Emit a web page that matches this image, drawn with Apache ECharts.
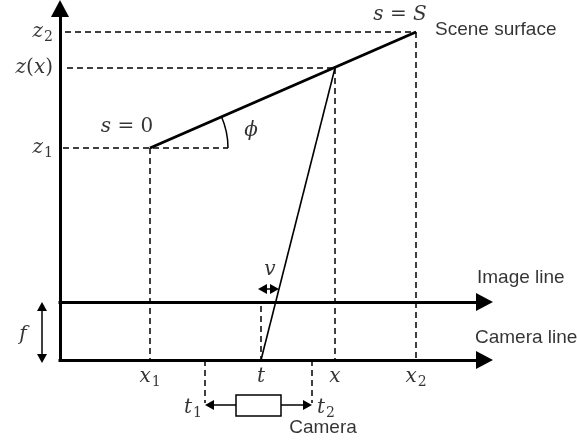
<!DOCTYPE html>
<html>
<head>
<meta charset="utf-8">
<script src="https://cdn.jsdelivr.net/npm/echarts@6/dist/echarts.min.js"></script>
<style>html,body{margin:0;padding:0;background:#fff;}#c{width:577px;height:441px;}</style>
</head>
<body>
<div id="c"></div>
<script>
// ---- diagram data (horizontal position, height above the camera line) ----
const X_TICK_LABELS = ['x_1', 't', 'x', 'x_2'];
const X_TICKS = [150, 261, 335, 416];
const Z_TICK_LABELS = ['z_2', 'z(x)', 'z_1'];
const Z_TICKS = [328, 292, 212];
const SURFACE = [[150, 212], [416, 328]];     // s = 0  ->  s = S
const RAY = [[335, 292], [261, 0]];           // z(x) -> t
const IMAGE_LINE_Z = 58;                      // f
const CAMERA_T = [205, 312];                  // t1, t2
const T_LABELS = ['t_1', 't_2'];
const AXIS_ORIGIN = [60, 0];
const AXIS_TIPS = [493, 360];                 // horizontal tip, vertical tip
const V_SPAN = [258, 279];
const F_SPAN = [-3, 58];
const CAMERA_BOX = [236, 281];
const LINE_NAMES = ['Scene surface', 'Image line', 'Camera line', 'Camera'];
const MATH_LABELS = ['s = 0', 's = S', 'ϕ', 'v', 'f'];

// ---- layout / style ----
const MATH_FONT = 'DejaVu Serif';
const SANS_FONT = 'Liberation Sans';
const BIG_HEAD = [18, 17];
const SMALL_HEAD = [10, 9];
const ARC_R = 78;
const DASH = [6, 4];

function tex(str) {
  let out = '', sub = false;
  for (const ch of str) {
    if (ch === '_') { sub = true; continue; }
    if (sub) { out += '{s|' + ch + '}'; sub = false; continue; }
    if (/[A-Za-zϕ]/.test(ch)) out += '{m|' + ch + '}';
    else if (ch === ' ') out += '{r| }';
    else out += '{r|' + ch + '}';
  }
  return out;
}
const RICH = {
  m: { fontFamily: MATH_FONT, fontStyle: 'italic', fontSize: 20, color: '#000', lineHeight: 24 },
  r: { fontFamily: MATH_FONT, fontSize: 20, color: '#000', lineHeight: 24 },
  s: { fontFamily: MATH_FONT, fontSize: 14, color: '#000', lineHeight: 24, padding: [10, 0, 0, 1] }
};

const ox = AXIS_ORIGIN[0], oz = AXIS_ORIGIN[1];
const zImg = IMAGE_LINE_Z;
const camZ = -45;

function seg(a, b, extra) { return [Object.assign({ coord: a }, extra || {}), { coord: b }]; }

// solid axes with big arrowheads
const axesLines = [
  seg([ox, oz - 1.5], [ox, AXIS_TIPS[1] - BIG_HEAD[1] / 2]),
  seg([ox - 1.5, oz], [AXIS_TIPS[0] - BIG_HEAD[1] / 2, oz]),
  seg([ox - 1.5, zImg], [AXIS_TIPS[0] - BIG_HEAD[1] / 2, zImg])
];

const dashedLines = [
  seg([ox + 5, Z_TICKS[0]], [X_TICKS[3], Z_TICKS[0]]),
  seg([ox + 7, Z_TICKS[1]], [X_TICKS[2], Z_TICKS[1]]),
  seg([ox + 3, Z_TICKS[2]], [SURFACE[0][0] + ARC_R, Z_TICKS[2]]),
  seg([X_TICKS[0], Z_TICKS[2]], [X_TICKS[0], oz]),
  seg([X_TICKS[2], Z_TICKS[1]], [X_TICKS[2], oz]),
  seg([X_TICKS[3], Z_TICKS[0]], [X_TICKS[3], oz]),
  seg([X_TICKS[1], zImg - 4], [X_TICKS[1], oz]),
  seg([CAMERA_T[0], oz], [CAMERA_T[0], camZ + 2]),
  seg([CAMERA_T[1], oz], [CAMERA_T[1], camZ + 2])
];

const h = SMALL_HEAD[1] / 2;
const smallArrows = [
  seg([V_SPAN[0] + h, 71], [V_SPAN[1] - h, 71]),
  seg([42, F_SPAN[1] - h], [42, F_SPAN[0] + h]),
  seg([CAMERA_T[0] + h, camZ], [CAMERA_T[1] - h, camZ])
];

function lbl(pos, text, label) {
  return { value: pos, label: Object.assign({ show: true, formatter: text, rich: RICH, color: '#000' }, label) };
}
const sansLbl = { fontFamily: SANS_FONT, fontSize: 19, color: '#000' };

const labels = [];
X_TICK_LABELS.forEach((t, i) => labels.push(lbl([X_TICKS[i], oz], tex(t), { position: 'bottom', distance: 5 })));
Z_TICK_LABELS.forEach((t, i) => labels.push(lbl([ox, Z_TICKS[i]], tex(t), { position: 'left', distance: 7 })));
labels.push(lbl([CAMERA_T[0], camZ - 3], tex(T_LABELS[0]), { position: 'left', distance: 3 }));
labels.push(lbl([CAMERA_T[1], camZ - 3], tex(T_LABELS[1]), { position: 'right', distance: 5 }));
labels.push(lbl([127, 233], tex(MATH_LABELS[0]), { position: 'inside' }));
labels.push(lbl([400, 345], tex(MATH_LABELS[1]), { position: 'inside' }));
labels.push(lbl([251, 229], tex(MATH_LABELS[2]), { position: 'inside' }));
labels.push(lbl([270, 90], tex(MATH_LABELS[3]), { position: 'inside' }));
labels.push(lbl([23, 25], tex(MATH_LABELS[4]), { position: 'inside' }));
labels.push(lbl([435, 330], LINE_NAMES[0], Object.assign({ position: 'right', distance: 0 }, sansLbl)));
labels.push(lbl([477, 82], LINE_NAMES[1], Object.assign({ position: 'right', distance: 0 }, sansLbl)));
labels.push(lbl([475, 22], LINE_NAMES[2], Object.assign({ position: 'right', distance: 0 }, sansLbl)));
labels.push(lbl([323, -68], LINE_NAMES[3], Object.assign({ position: 'inside' }, sansLbl)));

const chart = echarts.init(document.getElementById('c'), null, { renderer: 'canvas' });
chart.setOption({
  animation: false,
  backgroundColor: '#fff',
  grid: { left: 0, right: 0, top: 0, bottom: 0 },
  xAxis: { type: 'value', min: 0, max: 577, show: false },
  yAxis: { type: 'value', min: -81, max: 360, show: false },
  series: [
    {
      type: 'line', data: [], silent: true,
      markLine: {
        silent: true, animation: false, symbol: ['none', 'triangle'], symbolSize: BIG_HEAD,
        label: { show: false }, emphasis: { disabled: true },
        lineStyle: { color: '#000', width: 3, type: 'solid' },
        data: axesLines
      }
    },
    {
      type: 'line', data: [], silent: true,
      markLine: {
        silent: true, animation: false, symbol: ['none', 'none'],
        label: { show: false }, emphasis: { disabled: true },
        lineStyle: { color: '#000', width: 1.5, type: DASH },
        data: dashedLines
      }
    },
    {
      type: 'line', data: [], silent: true, z: 3,
      markLine: {
        silent: true, animation: false, symbol: ['triangle', 'triangle'], symbolSize: SMALL_HEAD,
        label: { show: false }, emphasis: { disabled: true },
        lineStyle: { color: '#000', width: 1.5, type: 'solid' },
        data: smallArrows
      }
    },
    {
      type: 'line', data: SURFACE, symbol: 'none', silent: true, clip: false, z: 4,
      lineStyle: { color: '#000', width: 3 }
    },
    {
      type: 'line', data: RAY, symbol: 'none', silent: true, clip: false, z: 4,
      lineStyle: { color: '#000', width: 1.6 }
    },
    {
      type: 'custom', silent: true, z: 5,
      data: [[SURFACE[0][0], SURFACE[0][1]]],
      renderItem: function (params, api) {
        const c = api.coord([api.value(0), api.value(1)]);
        const p2 = api.coord(SURFACE[1]);
        const r = api.size([ARC_R, 0])[0];
        const ang = Math.atan2(p2[1] - c[1], p2[0] - c[0]);
        return {
          type: 'arc',
          shape: { cx: c[0], cy: c[1], r: r, startAngle: ang, endAngle: 0, clockwise: true },
          style: { fill: 'none', stroke: '#000', lineWidth: 1.5 }
        };
      }
    },
    {
      type: 'custom', silent: true, z: 6,
      data: [[CAMERA_BOX[0], camZ + 10, CAMERA_BOX[1], camZ - 11]],
      renderItem: function (params, api) {
        const a = api.coord([api.value(0), api.value(1)]);
        const b = api.coord([api.value(2), api.value(3)]);
        return {
          type: 'rect',
          shape: { x: a[0], y: a[1], width: b[0] - a[0], height: b[1] - a[1] },
          style: { fill: '#fff', stroke: '#000', lineWidth: 1.5 }
        };
      }
    },
    {
      type: 'scatter', symbolSize: 0, silent: true, z: 10,
      data: labels
    }
  ]
});
</script>
</body>
</html>
